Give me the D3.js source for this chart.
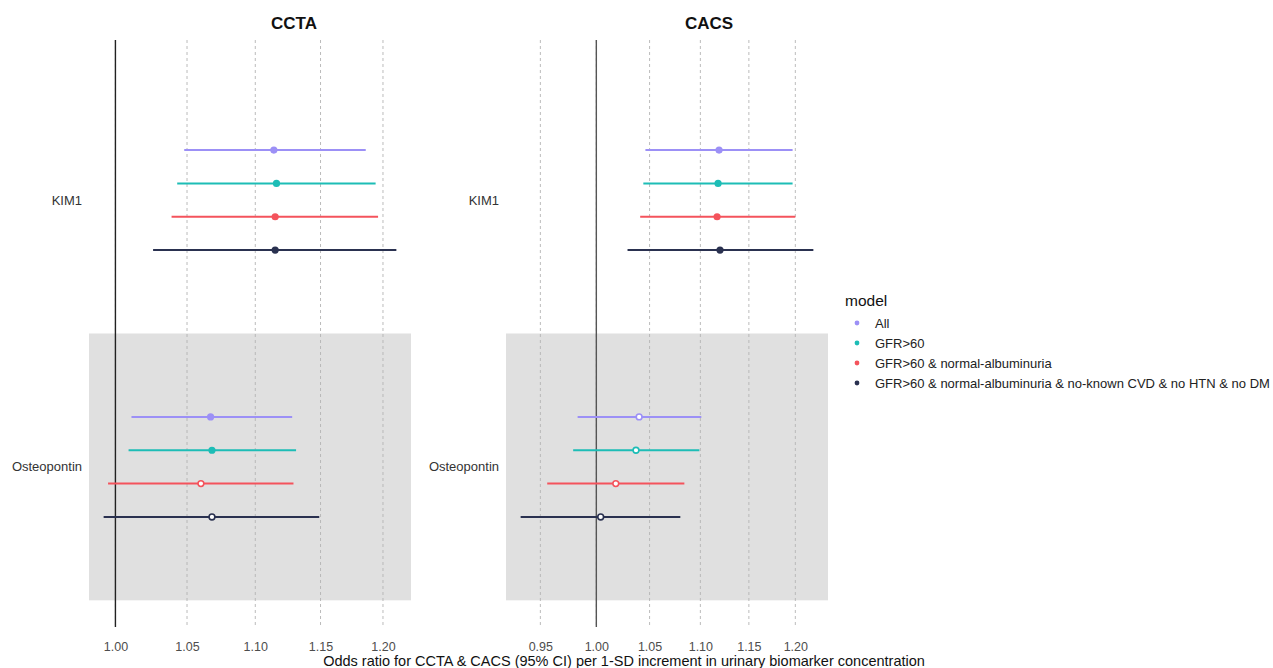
<!DOCTYPE html>
<html>
<head>
<meta charset="utf-8">
<script src="https://cdn.jsdelivr.net/npm/d3@7"></script>
<style>
  body { margin: 0; background: #fff; }
  text { font-family: "Liberation Sans", Arial, sans-serif; }
</style>
</head>
<body>
<script>
// Data
const outcomes = ["CCTA", "CACS"]
const markers = ["KIM1", "Osteopontin"]
const models = ["All", "GFR>60", "GFR>60 & normal-albuminuria",
    "GFR>60 & normal-albuminuria & no-known CVD & no HTN & no DM"]
const colors = ["#9c90f6", "#1dbdb6", "#f4535c", "#2a3150"]

// order: KIM1 x 4 models, then Osteopontin x 4 models
const cctaOR = [1.114, 1.116, 1.115, 1.115, 1.067, 1.068, 1.060, 1.068]
const cctaLow = [1.048, 1.043, 1.039, 1.026, 1.011, 1.009, 0.995, 0.992]
const cctaHigh = [1.186, 1.194, 1.196, 1.211, 1.128, 1.131, 1.129, 1.149]
const cacsOR = [1.119, 1.118, 1.117, 1.120, 1.040, 1.037, 1.018, 1.004]
const cacsLow = [1.046, 1.044, 1.041, 1.029, 0.983, 0.979, 0.956, 0.933]
const cacsHigh = [1.197, 1.197, 1.200, 1.220, 1.101, 1.099, 1.084, 1.080]

const cctaTicks = [1.00, 1.05, 1.10, 1.15, 1.20]
const cacsTicks = [0.95, 1.00, 1.05, 1.10, 1.15, 1.20]

function main() {
    const width = 1273, height = 668
    const top = 40, bottom = 627

    const svg = d3.select("body").append("svg")
        .attr("width", width)
        .attr("height", height)

    function rows(est, lo, hi) {
        const out = []
        markers.forEach(function (m, i) {
            models.forEach(function (g, j) {
                const k = i * models.length + j
                out.push({ marker: m, model: g, idx: j, or: est[k], lo: lo[k], hi: hi[k] })
            })
        })
        return out
    }

    const panels = [
        { name: outcomes[0], data: rows(cctaOR, cctaLow, cctaHigh), ticks: cctaTicks,
          left: 89, right: 411, titleX: 294, refColor: "#222" },
        { name: outcomes[1], data: rows(cacsOR, cacsLow, cacsHigh), ticks: cacsTicks,
          left: 506, right: 828, titleX: 709, refColor: "#555" }
    ]

    // y: marker bands, then dodge within band
    const yScale = d3.scaleBand()
        .domain(markers)
        .range([top, bottom])
        .paddingInner(0)
        .paddingOuter(0.1)
    const dodgeW = yScale.bandwidth() * 0.5
    const dodge = d3.scaleBand()
        .domain(models)
        .range([-dodgeW / 2, dodgeW / 2])
    const yPos = d => yScale(d.marker) + yScale.bandwidth() / 2 + dodge(d.model) + dodge.bandwidth() / 2

    panels.forEach(function (p) {
        // log x scale with 5% expansion, like ggplot
        const lmin = Math.log(d3.min(p.data, d => d.lo))
        const lmax = Math.log(d3.max(p.data, d => d.hi))
        const pad = (lmax - lmin) * 0.05
        const xScale = d3.scaleLog()
            .domain([Math.exp(lmin - pad), Math.exp(lmax + pad)])
            .range([p.left, p.right])

        const g = svg.append("g")

        // Shaded band for Osteopontin
        g.append("rect")
            .attr("x", p.left)
            .attr("width", p.right - p.left)
            .attr("y", yScale("Osteopontin"))
            .attr("height", yScale.bandwidth())
            .attr("fill", "#e0e0e0")

        // Dashed grid lines
        g.selectAll("line.grid")
            .data(p.ticks)
            .enter().append("line")
            .attr("class", "grid")
            .attr("x1", d => xScale(d)).attr("x2", d => xScale(d))
            .attr("y1", top).attr("y2", bottom)
            .attr("stroke", "#b3b3b3")
            .attr("stroke-width", 0.9)
            .attr("stroke-dasharray", "3,3")

        // Reference line at 1
        g.append("line")
            .attr("x1", xScale(1)).attr("x2", xScale(1))
            .attr("y1", top).attr("y2", bottom)
            .attr("stroke", p.refColor)
            .attr("stroke-width", 1.4)

        // Error bars
        g.selectAll("line.ci")
            .data(p.data)
            .enter().append("line")
            .attr("class", "ci")
            .attr("x1", d => xScale(d.lo)).attr("x2", d => xScale(d.hi))
            .attr("y1", yPos).attr("y2", yPos)
            .attr("stroke", d => colors[d.idx])
            .attr("stroke-width", 2)

        // Points: filled if CI excludes 1
        g.selectAll("circle.pt")
            .data(p.data)
            .enter().append("circle")
            .attr("class", "pt")
            .attr("cx", d => xScale(d.or))
            .attr("cy", yPos)
            .attr("r", function (d) { return (d.lo > 1 || d.hi < 1) ? 3.6 : 2.9 })
            .attr("fill", function (d) { return (d.lo > 1 || d.hi < 1) ? colors[d.idx] : "#fff" })
            .attr("stroke", d => colors[d.idx])
            .attr("stroke-width", function (d) { return (d.lo > 1 || d.hi < 1) ? 0 : 1.6 })

        // Y labels
        g.selectAll("text.ylab")
            .data(markers)
            .enter().append("text")
            .attr("class", "ylab")
            .attr("x", p.left - 7)
            .attr("y", d => yScale(d) + yScale.bandwidth() / 2)
            .attr("dy", "0.35em")
            .attr("text-anchor", "end")
            .attr("font-size", 13)
            .attr("fill", "#333")
            .text(d => d)

        // X axis
        const xAxis = d3.axisBottom(xScale)
            .tickValues(p.ticks)
            .tickSize(0)
            .tickPadding(0)
            .tickFormat(d3.format(".2f"))
        const ax = g.append("g")
            .attr("transform", `translate(0, 642)`)
            .call(xAxis)
        ax.select(".domain").remove()
        ax.selectAll("text")
            .attr("font-family", "Liberation Sans, Arial, sans-serif")
            .attr("font-size", 12.5)
            .attr("fill", "#4d4d4d")

        // Panel title
        svg.append("text")
            .attr("x", p.titleX)
            .attr("y", 29)
            .attr("text-anchor", "middle")
            .attr("font-size", 17)
            .attr("font-weight", "bold")
            .attr("fill", "#111")
            .text(p.name)
    })

    // Axis title
    svg.append("text")
        .attr("x", 624)
        .attr("y", 666)
        .attr("text-anchor", "middle")
        .attr("font-size", 14.5)
        .attr("fill", "#111")
        .text("Odds ratio for CCTA & CACS (95% CI) per 1-SD increment in urinary biomarker concentration")

    // Legend
    const legend = svg.append("g")
    legend.append("text")
        .attr("x", 845)
        .attr("y", 306)
        .attr("font-size", 15.5)
        .attr("fill", "#111")
        .text("model")
    const item = legend.selectAll("g.item")
        .data(models)
        .enter().append("g")
        .attr("class", "item")
        .attr("transform", function (d, i) { return "translate(0," + (323 + i * 20) + ")" })
    item.append("circle")
        .attr("cx", 857)
        .attr("r", 2.4)
        .attr("fill", (d, i) => colors[i])
    item.append("text")
        .attr("x", 875)
        .attr("dy", "0.35em")
        .attr("font-size", 13)
        .attr("fill", "#222")
        .text(d => d)
}
main()
</script>
</body>
</html>
